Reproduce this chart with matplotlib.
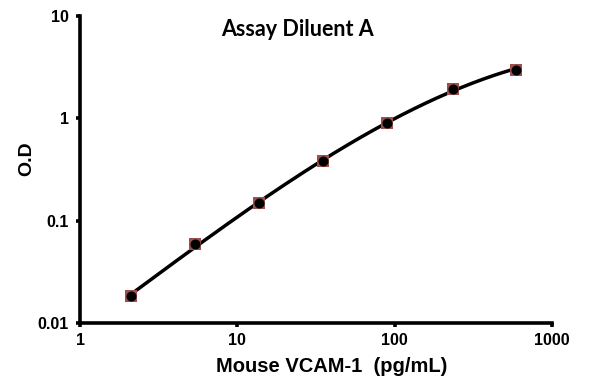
import numpy as np
import matplotlib
matplotlib.use('Agg')
import matplotlib.pyplot as plt
from matplotlib.ticker import FixedLocator, FixedFormatter, NullLocator

# standard curve
conc = [2.1, 5.4, 13.8, 35, 90, 234, 590]
od = [0.0185, 0.059, 0.149, 0.38, 0.90, 1.96, 3.0]

xticks = [1, 10, 100, 1000]
xticklabels = ['1', '10', '100', '1000']
yticks = [0.01, 0.1, 1, 10]
yticklabels = ['0.01', '0.1', '1', '10']

plt.rcParams['font.family'] = ['Liberation Sans', 'DejaVu Sans']

fig = plt.figure(figsize=(5.95, 3.84), dpi=100)
ax = fig.add_axes([0.1345, 0.159, 0.7932, 0.799])

# smooth trend line (cubic fit in log-log space)
lx = np.log10(conc)
coef = np.polyfit(lx, np.log10(od), 3)
xs = np.linspace(lx[0], lx[-1], 200)
ax.plot(10 ** xs, 10 ** np.polyval(coef, xs), color='black', lw=2.5, zorder=2)

ax.scatter(conc, od, marker='s', s=75, color='#9c4f4f', zorder=3, linewidths=0)
ax.scatter(conc, od, marker='o', s=52, color='black', zorder=4, linewidths=0)

ax.set_xscale('log')
ax.set_yscale('log')
ax.set_xlim(1, 1000)
ax.set_ylim(0.01, 10)
ax.xaxis.set_major_locator(FixedLocator(xticks))
ax.xaxis.set_major_formatter(FixedFormatter(xticklabels))
ax.yaxis.set_major_locator(FixedLocator(yticks))
ax.yaxis.set_major_formatter(FixedFormatter(yticklabels))
ax.xaxis.set_minor_locator(NullLocator())
ax.yaxis.set_minor_locator(NullLocator())

for s in ['top', 'right']:
    ax.spines[s].set_visible(False)
for s in ['left', 'bottom']:
    ax.spines[s].set_linewidth(2.6)
ax.tick_params(axis='both', which='major', length=3, width=2.6, direction='out',
               labelsize=11.5)
ax.tick_params(axis='y', pad=5)
ax.tick_params(axis='x', pad=4)
for lab in ax.get_xticklabels() + ax.get_yticklabels():
    lab.set_fontweight('bold')

ax.set_xlabel('Mouse VCAM-1  (pg/mL)', fontsize=14.5, fontweight='bold')
ax.xaxis.set_label_coords(0.534, -0.112)
ax.set_ylabel('O.D', fontsize=14, fontweight='bold')
ax.yaxis.set_label_coords(-0.094, 0.535)
ax.text(297 / 595, 1 - 30 / 384, 'Assay Diluent A', transform=fig.transFigure,
        ha='center', va='center', fontsize=15.5, fontweight='bold',
        family=['Lato', 'DejaVu Sans'])

fig.savefig('out.png', dpi=100, facecolor='w')
